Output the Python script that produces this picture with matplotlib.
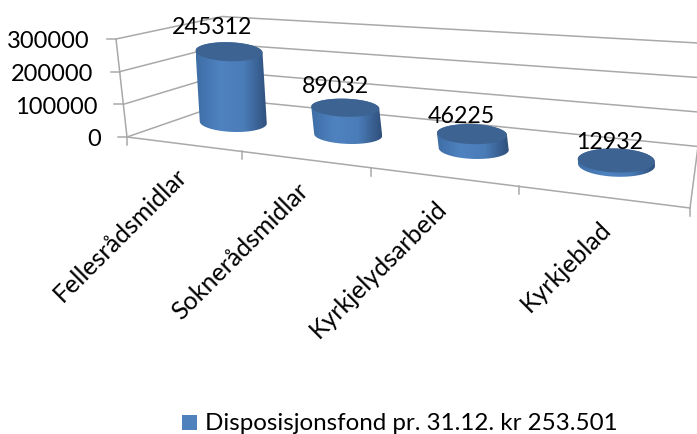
import numpy as np
import matplotlib
matplotlib.use('Agg')
import matplotlib.pyplot as plt
from matplotlib.colors import LinearSegmentedColormap
from matplotlib.patches import Polygon, Rectangle

plt.rcParams['font.family'] = ['Lato', 'DejaVu Sans']

# Data
categories = ['Fellesrådsmidlar', 'Soknerådsmidlar', 'Kyrkjelydsarbeid', 'Kyrkjeblad']
values = [245312, 89032, 46225, 12932]
y_ticks = [0, 100000, 200000, 300000]
legend_label = 'Disposisjonsfond pr. 31.12. kr 253.501'

# Corners of the 3D box in pixels: front-left, front-right, back-right, back-left
floor_quad = [(127, 137), (690, 208), (698, 146.5), (234, 100)]
top_quad = [(116, 39), (690, 105), (698, 43), (222, 16.5)]
z_max = 300000
n = len(categories)

# Cylinder ends on screen, half width and half height in pixels
rx = [33.5, 34, 35, 38.5]
ry = [9.5, 9, 10, 12]
base_dx = [-4, -1, -1, 0]
lean = 0.2
rise = 0.93
label_offsets = [(-17, -24), (-10, -21), (-11, -18), (-7, -18)]
cat_label_shift = [(-8, 20), (-8, 20), (-8, 20), (-2, 20)]

grid_col = '#a9a9a9'
body_cmap = LinearSegmentedColormap.from_list(
    'body', ['#3f6ea6', '#4f82c0', '#4a7cb8', '#2f4f7a'])
top_col = '#3c6391'


def homography(quad):
    src = [(0, 0), (1, 0), (1, 1), (0, 1)]
    A, b = [], []
    for (u, v), (x, y) in zip(src, quad):
        A.append([u, v, 1, 0, 0, 0, -u * x, -v * x])
        A.append([0, 0, 0, u, v, 1, -u * y, -v * y])
        b += [x, y]
    return np.append(np.linalg.solve(np.array(A, float), np.array(b, float)), 1).reshape(3, 3)


H_floor = homography(floor_quad)
H_top = homography(top_quad)


def apply(H, u, d):
    p = H @ np.array([u, d, 1.0])
    return p[:2] / p[2]


def project(cat, d, z):
    # cat in category units, d = depth 0..1, z in data units
    a = apply(H_floor, cat / n, d)
    b = apply(H_top, cat / n, d)
    return a + (b - a) * z / z_max


fig = plt.figure(figsize=(6.97, 4.34), dpi=100)
ax = fig.add_axes([0, 0, 1, 1])

# Walls and floor
for z in y_ticks:
    pts = np.array([project(0, 0, z), project(0, 1, z), project(n, 1, z)])
    ax.plot(pts[:, 0], pts[:, 1], color=grid_col, lw=1.1, zorder=1)
    tx, ty = pts[0]
    ax.plot([tx - 9, tx], [ty, ty], color=grid_col, lw=1.1, zorder=1)
    ax.text(tx - 26, ty + 3, str(z), ha='right', va='center', fontsize=17, color='black')

for p, q in [(project(0, 0, 0), project(0, 0, z_max)),
             (project(0, 0, 0), project(n, 0, 0)),
             (project(n, 0, 0), project(n, 1, 0))]:
    ax.plot([p[0], q[0]], [p[1], q[1]], color=grid_col, lw=1.1, zorder=1)

for i in range(n + 1):
    p = project(i, 0, 0)
    ax.plot([p[0], p[0]], [p[1], p[1] + 8], color=grid_col, lw=1.1, zorder=1)

# Cylinders
theta = np.linspace(0, 2 * np.pi, 160)
for i, val in enumerate(values):
    base_c = project(i + 0.5, 0.5, 0) + np.array([base_dx[i], 0])
    raised = project(i + 0.5, 0.5, val * rise) + np.array([base_dx[i], 0])
    top_c = np.array([base_c[0] + lean * (raised[0] - base_c[0]), raised[1]])
    ex = rx[i] * np.cos(theta)
    ey = ry[i] * np.sin(theta) + 0.03 * ex
    base = np.column_stack([base_c[0] + ex, base_c[1] + ey])
    top = np.column_stack([top_c[0] + ex, top_c[1] + ey])
    # body: upper half of the top end, lower half of the base end
    body = np.vstack([top[theta >= np.pi], base[theta < np.pi]])
    poly = Polygon(body, closed=True, fc='none', ec='none')
    ax.add_patch(poly)
    grad = np.linspace(0, 1, 256).reshape(1, -1)
    im = ax.imshow(grad, cmap=body_cmap, aspect='auto', zorder=3,
                   extent=[body[:, 0].min(), body[:, 0].max(), body[:, 1].max() + 2, body[:, 1].min() - 2])
    im.set_clip_path(poly)
    ax.add_patch(Polygon(top, closed=True, fc=top_col, ec='none', zorder=4))
    ax.text(top_c[0] + label_offsets[i][0], top_c[1] + label_offsets[i][1], str(val),
            ha='center', va='center', fontsize=16.7, color='black', zorder=5)

# Category labels
for i, name in enumerate(categories):
    p = project(i + 0.5, 0, 0)
    ax.text(p[0] + cat_label_shift[i][0], p[1] + cat_label_shift[i][1], name, rotation=45,
            rotation_mode='anchor', ha='right', va='top', fontsize=18, color='black')

# Legend
ax.add_patch(Rectangle((182, 415), 15, 15, fc='#4f81bd', ec='none'))
ax.text(205, 423, legend_label, ha='left', va='center', fontsize=17.4, color='black')

ax.set_xlim(0, 697)
ax.set_ylim(434, 0)
ax.axis('off')
fig.savefig('out.png', dpi=100)
